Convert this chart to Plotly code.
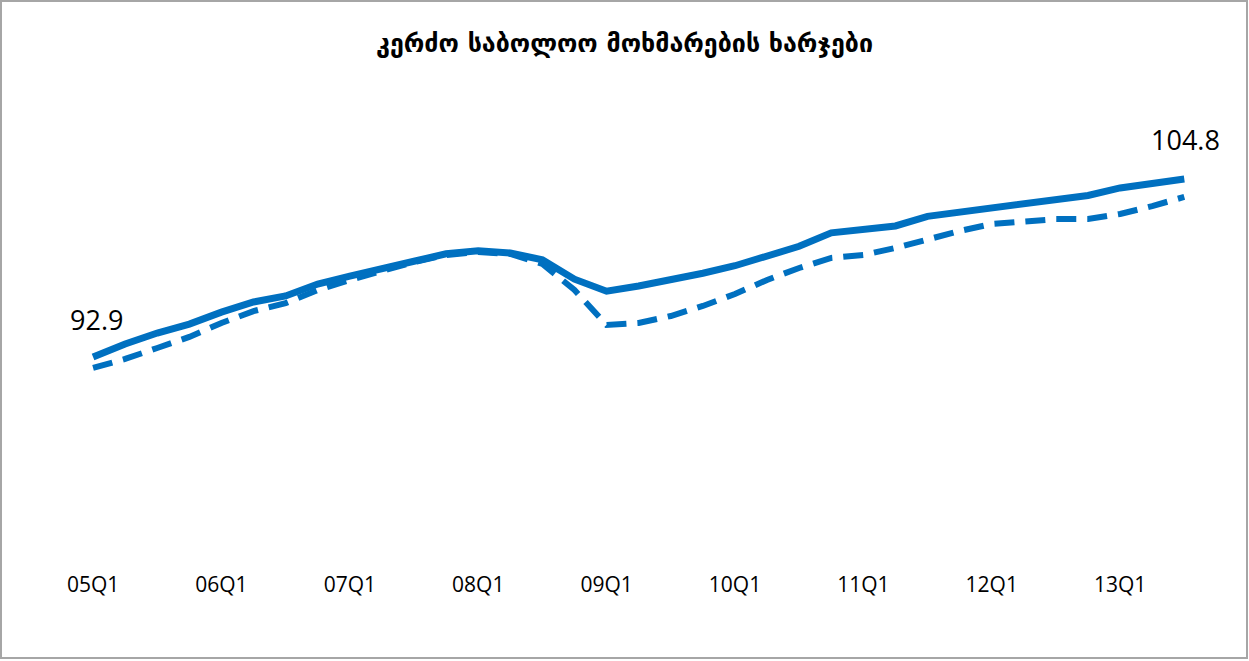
import plotly.graph_objects as go

# quarters 05Q1 .. 13Q3
quarters = [f"{y:02d}Q{q}" for y in range(5, 14) for q in range(1, 5)][:35]
tick_labels = ["05Q1", "06Q1", "07Q1", "08Q1", "09Q1", "10Q1", "11Q1", "12Q1", "13Q1"]

solid_vals = [92.9, 93.77, 94.5, 95.1, 95.9, 96.58, 96.98, 97.78, 98.3, 98.85,
              99.3, 99.8, 100.0, 99.85, 99.4, 98.1, 97.3, 97.65, 98.05, 98.5,
              99.0, 99.65, 100.3, 101.2, 101.4, 101.66, 102.3, 102.6, 102.9, 103.1,
              103.4, 103.7, 104.2, 104.55, 104.8]

dashed_vals = [92.17, 92.77, 93.5, 94.24, 95.17, 95.97, 96.5, 97.38, 98.05, 98.65,
               99.25, 99.72, 99.92, 99.79, 99.12, 97.38, 95.04, 95.17, 95.64, 96.31,
               97.11, 98.05, 98.85, 99.52, 99.72, 100.19, 100.79, 101.32, 101.79, 101.99,
               102.12, 102.12, 102.46, 102.99, 103.6]

title = "კერძო საბოლოო მოხმარების ხარჯები"
blue = "#0070C0"

W, H = 1249, 661
L, R, T, B = 60, 40, 100, 91

fig = go.Figure()
fig.add_trace(go.Scatter(x=quarters, y=dashed_vals, mode="lines",
                         line=dict(color=blue, width=6, dash="20px,11px"),
                         showlegend=False))
fig.add_trace(go.Scatter(x=quarters, y=solid_vals, mode="lines",
                         line=dict(color=blue, width=7),
                         showlegend=False))

# end labels
fig.add_annotation(x=quarters[0], y=solid_vals[0], text=f"{solid_vals[0]:.1f}",
                   showarrow=False, yshift=37, xshift=3,
                   font=dict(size=27, color="#000000", family="Open Sans"))
fig.add_annotation(x=quarters[-1], y=solid_vals[-1], text=f"{solid_vals[-1]:.1f}",
                   showarrow=False, yshift=39, xshift=1,
                   font=dict(size=27, color="#000000", family="Open Sans"))

# outer border
fig.add_shape(type="rect", xref="paper", yref="paper",
              x0=-(L - 1) / (W - L - R), x1=1 + (R - 2) / (W - L - R),
              y0=-(B - 3) / (H - T - B), y1=1 + (T - 1) / (H - T - B),
              line=dict(color="#A6A6A6", width=2))

fig.update_layout(
    width=W, height=H,
    margin=dict(l=L, r=R, t=T, b=B),
    paper_bgcolor="white", plot_bgcolor="white",
    title=dict(text="<b>" + title + "</b>", x=0.5, xanchor="center", y=0.935, yanchor="middle",
               font=dict(size=25, color="#000000", family="DejaVu Sans")),
    xaxis=dict(type="category", range=[-1.03, 34.77],
               tickmode="array", tickvals=tick_labels, ticktext=tick_labels,
               showgrid=False, zeroline=False, showline=False, ticks="",
               tickfont=dict(size=21, color="#000000", family="Open Sans")),
    yaxis=dict(range=[78.66, 110.08], visible=False),
)

fig.write_html("out.html", config={"displayModeBar": False},
               post_script="document.body.style.margin='0';")
